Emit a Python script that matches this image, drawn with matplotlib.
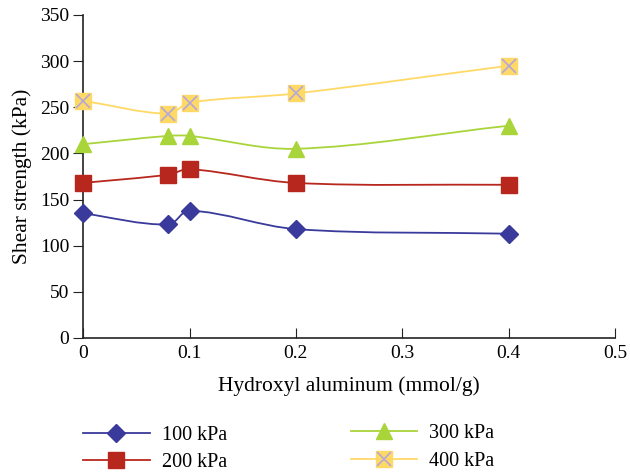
import numpy as np
import matplotlib.pyplot as plt
from matplotlib.path import Path
from matplotlib.patches import PathPatch
from matplotlib.lines import Line2D

plt.rcParams['font.family'] = ['Liberation Serif', 'DejaVu Serif']

# data
x = [0, 0.08, 0.1, 0.2, 0.4]
s100 = [135, 123, 138, 118, 113]
s200 = [168, 177, 183, 168, 166]
s300 = [210, 219, 219, 205, 230]
s400 = [257, 243, 255, 265, 295]
labels = ['100 kPa', '200 kPa', '300 kPa', '400 kPa']

colors = ['#3a3a9c', '#b8271e', '#a9d43a', '#ffd966']


def smooth_path(xs, ys, sx=1064.0, sy=0.923):
    # Excel-like smoothed line: cubic bezier, tangents worked out in screen-like units
    P = np.column_stack([np.asarray(xs, float) * sx, np.asarray(ys, float) * sy])
    n = len(P)
    verts = [tuple(P[0])]
    codes = [Path.MOVETO]
    for i in range(n - 1):
        p0, p1 = P[max(i - 1, 0)], P[i]
        p2, p3 = P[i + 1], P[min(i + 2, n - 1)]
        d = np.linalg.norm(p2 - p1)
        t1 = p2 - p0
        t2 = p3 - p1
        t1 = t1 / np.linalg.norm(t1)
        t2 = t2 / np.linalg.norm(t2)
        c1 = p1 + t1 * d / 3
        c2 = p2 - t2 * d / 3
        verts += [tuple(c1), tuple(c2), tuple(p2)]
        codes += [Path.CURVE4] * 3
    verts = [(vx / sx, vy / sy) for vx, vy in verts]
    return Path(verts, codes)


fig = plt.figure(figsize=(6.3, 4.76), dpi=100)
ax = fig.add_axes([0.132, 0.29, 0.844, 0.6785])

series = [s100, s200, s300, s400]
for ys, c in zip(series, colors):
    ax.add_patch(PathPatch(smooth_path(x, ys), fill=False, edgecolor=c, lw=1.3, zorder=2))

ax.plot(x, s100, ls='none', marker='D', ms=9, color=colors[0], zorder=3, clip_on=False)
ax.plot(x, s200, ls='none', marker='s', ms=11, color=colors[1], zorder=3, clip_on=False)
ax.plot(x, s300, ls='none', marker='^', ms=11, color=colors[2], zorder=3, clip_on=False)
ax.plot(x, s400, ls='none', marker='s', ms=11, color=colors[3], zorder=3, clip_on=False)
ax.plot(x, s400, ls='none', marker='x', ms=10, mew=1.2, color='#b4a7d6', zorder=4, clip_on=False)

ax.set_xlim(0, 0.5)
ax.set_ylim(0, 350)
ax.set_xticks([0, 0.1, 0.2, 0.3, 0.4, 0.5])
ax.set_xticklabels(['0', '0.1', '0.2', '0.3', '0.4', '0.5'])
ax.set_yticks(range(0, 351, 50))
ax.tick_params(axis='x', direction='in', length=7, labelsize=14, pad=5, color='#222222')
ax.tick_params(axis='y', direction='out', length=7, labelsize=14, pad=3, color='#222222')
for side in ['top', 'right']:
    ax.spines[side].set_visible(False)
for side in ['left', 'bottom']:
    ax.spines[side].set_color('#222222')
    ax.spines[side].set_linewidth(1.2)
    ax.spines[side].set_zorder(1)

ax.set_xlabel('Hydroxyl aluminum (mmol/g)', fontsize=15.5, labelpad=10)
ax.set_ylabel('Shear strength (kPa)', fontsize=15.5, labelpad=6)

# legend, two columns under the plot
h1 = Line2D([], [], color=colors[0], lw=1.3, marker='D', ms=9)
h2 = Line2D([], [], color=colors[1], lw=1.3, marker='s', ms=11)
h3 = Line2D([], [], color=colors[2], lw=1.3, marker='^', ms=11)
h4a = Line2D([], [], color=colors[3], lw=1.3, marker='s', ms=11)
h4b = Line2D([], [], ls='none', color='#b4a7d6', marker='x', ms=10, mew=1.2)

leg_kw = dict(frameon=False, fontsize=14.5, handlelength=3.3, handletextpad=0.6,
              borderaxespad=0, borderpad=0, loc='center left')
fig.legend([h1, h2], labels[:2], bbox_to_anchor=(0.132, 0.0567), labelspacing=0.4, **leg_kw)
fig.legend([h3, (h4a, h4b)], labels[2:], bbox_to_anchor=(0.557, 0.06), labelspacing=0.45, **leg_kw)

fig.savefig('out.png', dpi=100)
